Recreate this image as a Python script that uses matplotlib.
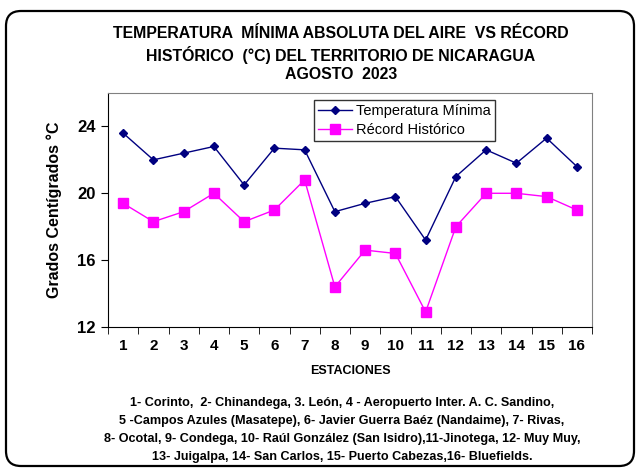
import matplotlib
matplotlib.use("Agg")
import matplotlib.pyplot as plt
from matplotlib.patches import FancyBboxPatch

# Data
estaciones = list(range(1, 17))
temp_minima = [23.6, 22.0, 22.4, 22.8, 20.5, 22.7, 22.6, 18.9,
               19.4, 19.8, 17.2, 21.0, 22.6, 21.8, 23.3, 21.6]
record_historico = [19.4, 18.3, 18.9, 20.0, 18.3, 19.0, 20.8, 14.4,
                    16.6, 16.4, 12.9, 18.0, 20.0, 20.0, 19.8, 19.0]
y_ticks = [12, 16, 20, 24]

title = ("TEMPERATURA  MÍNIMA ABSOLUTA DEL AIRE  VS RÉCORD\n"
         "HISTÓRICO  (°C) DEL TERRITORIO DE NICARAGUA\n"
         "AGOSTO  2023")
footnote = ("1- Corinto,  2- Chinandega, 3. León, 4 - Aeropuerto Inter. A. C. Sandino,\n"
            "5 -Campos Azules (Masatepe), 6- Javier Guerra Baéz (Nandaime), 7- Rivas,\n"
            "8- Ocotal, 9- Condega, 10- Raúl González (San Isidro),11-Jinotega, 12- Muy Muy,\n"
            "13- Juigalpa, 14- San Carlos, 15- Puerto Cabezas,16- Bluefields.")

plt.rcParams["font.family"] = ["Liberation Sans Narrow", "Liberation Sans", "DejaVu Sans"]

W, H = 636, 468
fig = plt.figure(figsize=(W / 100, H / 100), dpi=100)

# Rounded outer frame (inches, so corners stay round)
frame = FancyBboxPatch((0.06, 0.02), 6.28, 4.55,
                       boxstyle="round,pad=0,rounding_size=0.15",
                       transform=fig.dpi_scale_trans,
                       facecolor="none", edgecolor="black", linewidth=1.6)
fig.add_artist(frame)

ax = fig.add_axes([108 / W, 1 - 327 / H, (592 - 108) / W, (327 - 93) / H])

ax.plot(estaciones, temp_minima, color="#000080", marker="D", markersize=4.5,
        linewidth=1.0, label="Temperatura Mínima")
ax.plot(estaciones, record_historico, color="#FF00FF", marker="s", markersize=7,
        linewidth=1.0, label="Récord Histórico")

ax.set_xlim(0.5, 16.5)
ax.set_ylim(12, 26)
ax.set_yticks(y_ticks)
ax.set_xticks(estaciones)
ax.set_xticks([i + 0.5 for i in range(0, 17)], minor=True)
ax.tick_params(axis="x", which="major", length=0, pad=9, labelsize=11)
ax.tick_params(axis="x", which="minor", length=5, direction="out")
ax.tick_params(axis="y", length=5, direction="out", labelsize=12, pad=4)
for lab in ax.get_xticklabels() + ax.get_yticklabels():
    lab.set_fontweight("bold")

for side in ("top", "right"):
    ax.spines[side].set_color("#808080")
for side in ("left", "bottom"):
    ax.spines[side].set_color("black")

ax.set_xlabel("ESTACIONES", fontsize=9, fontweight="bold", labelpad=8)
ax.set_ylabel("Grados Centígrados °C", fontsize=11.5, fontweight="bold", labelpad=11)

leg = ax.legend(loc="upper left", bbox_to_anchor=(0.4256, 0.97), fontsize=10.5,
                frameon=True, fancybox=False, borderpad=0.3, handlelength=2.3,
                handletextpad=0.3, labelspacing=0.3, borderaxespad=0)
leg.get_frame().set_edgecolor("black")
leg.get_frame().set_linewidth(1.0)

fig.text(341 / W, 1 - 26 / H, title, ha="center", va="top", fontsize=11.4,
         fontweight="bold", linespacing=1.3)
fig.text(342 / W, 1 - 397 / H, footnote, ha="center", va="top", fontsize=9.1,
         fontweight="bold", linespacing=1.65)

fig.savefig("out.png", dpi=100)
